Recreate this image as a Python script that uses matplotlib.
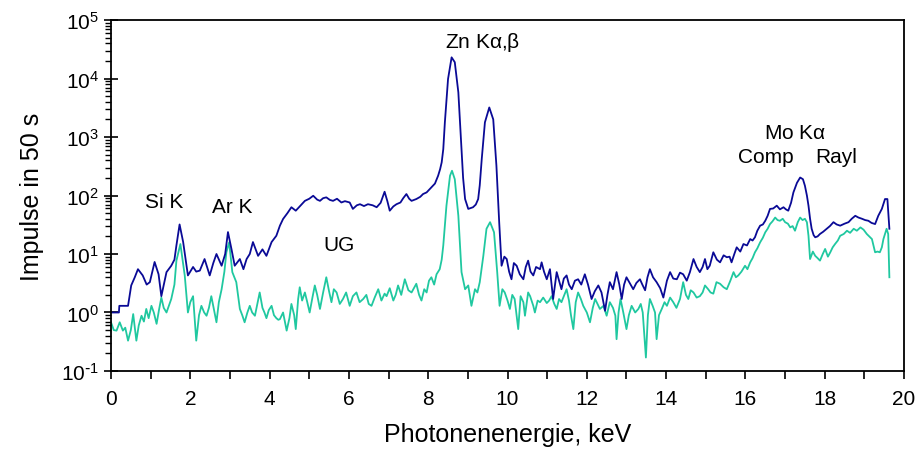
import matplotlib
matplotlib.use("Agg")
import matplotlib.pyplot as plt
from matplotlib.ticker import LogLocator, MultipleLocator, FuncFormatter
import math

plt.rcParams['font.family'] = ['Liberation Sans', 'DejaVu Sans']
plt.rcParams['mathtext.default'] = 'regular'
plt.rcParams['axes.unicode_minus'] = False

# spectrum 1 (dark blue): energy in keV, counts per 50 s
e_blue = [0.0, 0.2, 0.21, 0.43, 0.51, 0.6, 0.68, 0.8, 0.9, 0.98, 1.1, 1.2, 1.27, 1.4, 1.52, 1.6, 1.65,
          1.73, 1.82, 1.94, 2.07, 2.15, 2.24, 2.36, 2.49, 2.58, 2.66, 2.79, 2.88, 2.95, 3.04, 3.12, 3.25,
          3.34, 3.42, 3.5, 3.58, 3.71, 3.82, 3.92, 4.05, 4.17, 4.26, 4.34, 4.45, 4.55, 4.66, 4.76, 4.89,
          5.0, 5.1, 5.2, 5.27, 5.35, 5.43, 5.52, 5.6, 5.7, 5.81, 5.9, 6.02, 6.1, 6.2, 6.28, 6.38, 6.48,
          6.6, 6.7, 6.8, 6.9, 6.97, 7.03, 7.12, 7.2, 7.3, 7.37, 7.45, 7.52, 7.58, 7.7, 7.8, 7.87, 7.96,
          8.08, 8.17, 8.25, 8.3, 8.34, 8.38, 8.42, 8.5, 8.59, 8.67, 8.76, 8.84, 8.88, 8.93, 9.01, 9.13,
          9.2, 9.26, 9.3, 9.35, 9.43, 9.54, 9.64, 9.72, 9.79, 9.85, 9.92, 9.98, 10.04, 10.1, 10.16, 10.23,
          10.31, 10.4, 10.46, 10.52, 10.58, 10.65, 10.72, 10.82, 10.86, 10.92, 10.99, 11.07, 11.15, 11.24,
          11.3, 11.36, 11.42, 11.49, 11.55, 11.62, 11.7, 11.78, 11.86, 11.95, 12.03, 12.12, 12.2, 12.29,
          12.37, 12.46, 12.52, 12.58, 12.66, 12.75, 12.82, 12.88, 12.94, 13.0, 13.08, 13.17, 13.25, 13.34,
          13.4, 13.47, 13.53, 13.59, 13.67, 13.76, 13.85, 13.93, 14.02, 14.1, 14.18, 14.27, 14.35, 14.43,
          14.52, 14.6, 14.69, 14.77, 14.85, 14.92, 14.98, 15.04, 15.1, 15.19, 15.28, 15.36, 15.45, 15.53,
          15.6, 15.65, 15.72, 15.78, 15.87, 15.95, 16.04, 16.12, 16.18, 16.24, 16.3, 16.37, 16.44, 16.5,
          16.56, 16.62, 16.7, 16.79, 16.87, 16.96, 17.02, 17.08, 17.15, 17.21, 17.3, 17.38, 17.45, 17.5,
          17.55, 17.59, 17.63, 17.67, 17.72, 17.76, 17.82, 17.88, 17.96, 18.05, 18.13, 18.22, 18.3, 18.39,
          18.5, 18.6, 18.68, 18.77, 18.85, 18.94, 19.02, 19.1, 19.18, 19.27, 19.35, 19.44, 19.52, 19.58,
          19.63]
n_blue = [1.0, 1.0, 1.3, 1.3, 2.9, 4.0, 5.5, 4.3, 3.0, 3.3, 7.3, 4.5, 1.9, 4.9, 6.3, 8, 14,
          32, 16, 4.3, 6, 5, 5.2, 8.2, 4.3, 7, 10, 6.3, 10, 23.7, 12, 6.3, 8.2,
          5.5, 8.2, 10, 16, 9.3, 12, 9.3, 16, 20.5, 30.5, 39.7, 50, 63, 55, 65, 81,
          88, 99, 85, 81, 90, 93, 84, 81, 88, 76, 80, 76, 59, 68, 71, 66, 71,
          68, 63, 75, 116, 80, 55, 65, 71, 76, 90, 106, 88, 81, 87, 95, 106, 113,
          138, 160, 218, 282, 369, 620, 1780, 9800, 23000, 19000, 5800, 620, 200, 87, 59, 63,
          70, 87, 150, 420, 1780, 3200, 2000, 324, 35, 6.3, 9, 8.2, 5, 3.7, 7, 6.3,
          4.5, 3.7, 6, 7.7, 5, 4.3, 6, 5.5, 7.2, 5, 3.7, 5.5, 1.7, 4.9,
          3.5, 2.5, 3.8, 4.3, 3, 2.5, 3.5, 3.7, 3, 4.5, 3, 1.7, 2.3, 2.9,
          2.2, 1.07, 2, 3.3, 2.5, 4.9, 3, 1.7, 3, 4.0, 3.2, 2.5, 3.2, 3.7,
          3, 2.4, 4, 5.5, 4, 3.3, 2.6, 1.8, 3.5, 4.9, 3.8, 3.7, 4.8, 4.5,
          3.5, 4.9, 8.2, 6, 4.9, 6, 8.2, 5.5, 6.3, 10.7, 8, 7.2, 9.5, 8.8,
          9, 7.2, 10, 13, 11, 14.8, 14, 18, 17, 19.3, 25, 30.5, 32, 37,
          45, 59, 60, 67, 58, 63, 58, 55, 75, 113, 165, 203, 190, 147,
          100, 67, 40, 27, 21, 19.3, 20, 22, 24, 27, 30, 35, 32, 30.5,
          33, 35, 40, 45, 42, 40, 38, 37, 34, 32.5, 45, 59, 87, 87,
          27]

# spectrum 2 (turquoise)
e_teal = [0.0, 0.07, 0.14, 0.22, 0.3, 0.36, 0.43, 0.5, 0.56, 0.64, 0.7, 0.77, 0.83, 0.89, 0.95, 1.02,
          1.08, 1.15, 1.21, 1.27, 1.33, 1.4, 1.46, 1.52, 1.6, 1.65, 1.75, 1.86, 1.94, 2.0, 2.07, 2.15,
          2.22, 2.28, 2.35, 2.41, 2.47, 2.53, 2.6, 2.66, 2.72, 2.79, 2.86, 2.91, 2.98, 3.06, 3.16, 3.25,
          3.31, 3.37, 3.44, 3.5, 3.56, 3.63, 3.69, 3.75, 3.82, 3.87, 3.92, 3.98, 4.05, 4.11, 4.17, 4.22,
          4.26, 4.34, 4.43, 4.5, 4.55, 4.62, 4.66, 4.72, 4.76, 4.82, 4.89, 4.95, 5.01, 5.08, 5.14, 5.2,
          5.27, 5.35, 5.43, 5.5, 5.56, 5.62, 5.69, 5.77, 5.85, 5.93, 6.02, 6.1, 6.19, 6.27, 6.36, 6.44,
          6.5, 6.57, 6.65, 6.74, 6.82, 6.9, 6.95, 7.03, 7.12, 7.18, 7.24, 7.32, 7.41, 7.5, 7.58, 7.64,
          7.7, 7.77, 7.83, 7.9, 7.96, 8.02, 8.08, 8.15, 8.21, 8.29, 8.34, 8.38, 8.46, 8.55, 8.6, 8.67,
          8.76, 8.84, 8.93, 9.01, 9.09, 9.18, 9.24, 9.3, 9.39, 9.47, 9.56, 9.66, 9.74, 9.8, 9.87, 9.93,
          10.0, 10.06, 10.12, 10.18, 10.27, 10.33, 10.4, 10.44, 10.52, 10.57, 10.65, 10.69, 10.76, 10.82,
          10.9, 10.99, 11.05, 11.11, 11.18, 11.24, 11.3, 11.36, 11.42, 11.49, 11.55, 11.6, 11.66, 11.72,
          11.78, 11.85, 11.91, 12.0, 12.08, 12.15, 12.21, 12.27, 12.33, 12.42, 12.5, 12.58, 12.66, 12.72,
          12.75, 12.8, 12.85, 12.92, 13.0, 13.06, 13.13, 13.22, 13.3, 13.36, 13.41, 13.49, 13.54, 13.59,
          13.66, 13.72, 13.76, 13.82, 13.89, 13.96, 14.02, 14.1, 14.18, 14.26, 14.35, 14.43, 14.5, 14.56,
          14.62, 14.69, 14.77, 14.85, 14.92, 14.98, 15.06, 15.12, 15.19, 15.27, 15.36, 15.45, 15.53, 15.62,
          15.7, 15.76, 15.82, 15.9, 15.99, 16.05, 16.12, 16.18, 16.24, 16.3, 16.37, 16.44, 16.5, 16.56,
          16.62, 16.68, 16.75, 16.81, 16.87, 16.94, 17.0, 17.07, 17.13, 17.19, 17.25, 17.32, 17.38, 17.44,
          17.5, 17.55, 17.59, 17.63, 17.7, 17.76, 17.82, 17.88, 17.95, 18.01, 18.08, 18.14, 18.2, 18.26,
          18.33, 18.39, 18.48, 18.56, 18.64, 18.73, 18.81, 18.9, 18.98, 19.06, 19.12, 19.19, 19.23, 19.27,
          19.33, 19.39, 19.44, 19.48, 19.52, 19.56, 19.6, 19.63]
n_teal = [0.68, 0.5, 0.49, 0.68, 0.49, 0.55, 0.33, 0.5, 0.94, 0.33, 0.6, 0.88, 0.7, 1.15, 0.8, 1.3,
          1.0, 0.64, 1.1, 1.8, 1.2, 1.0, 1.3, 1.7, 3, 7.7, 14.8, 4.3, 1.0, 1.5, 1.9, 0.33,
          0.9, 1.3, 1.0, 0.88, 1.2, 1.9, 1.1, 0.68, 1.5, 2.5, 5, 10.7, 15.8, 4.9, 3.3, 1.15,
          0.9, 0.68, 1.0, 1.3, 1.0, 0.88, 1.4, 2.2, 1.2, 1.0, 0.8, 1.1, 1.3, 0.9, 0.8, 0.75,
          0.77, 1.0, 0.49, 0.8, 1.4, 0.9, 0.52, 1.7, 2.7, 1.6, 2.2, 1.5, 1.0, 1.8, 2.9, 2.0,
          1.15, 2.2, 4.0, 2.3, 1.5, 2.5, 2.2, 1.4, 1.7, 2.2, 1.3, 1.9, 2.2, 1.5, 1.7, 2.0,
          1.4, 1.3, 1.8, 2.5, 1.6, 2.1, 1.9, 2.6, 1.6, 2.0, 2.9, 2.0, 3.7, 2.4, 2.2, 2.6,
          3.1, 2.0, 1.6, 2.5, 2.2, 3.5, 4.0, 3.0, 4.5, 5.5, 8, 14, 67, 218, 265, 190,
          45, 4.9, 2.5, 2.9, 1.3, 2.5, 2.2, 3.3, 9.3, 27, 35, 23.5, 4.9, 1.3, 2.5, 2.2,
          1.6, 1.15, 2.0, 1.7, 0.52, 1.9, 1.5, 0.88, 2.2, 1.9, 1.3, 1.0, 1.6, 1.5,
          1.8, 1.45, 1.6, 1.9, 1.4, 1.15, 1.7, 1.5, 1.9, 2.5, 1.6, 0.9, 0.52, 1.5,
          2.2, 1.7, 1.3, 1.0, 0.68, 1.2, 1.7, 1.4, 1.15, 1.3, 0.88, 1.5, 1.2, 0.88,
          0.35, 1.0, 1.7, 1.0, 0.52, 0.9, 1.3, 1.0, 1.15, 1.4, 1.0, 0.17, 0.9, 1.7,
          1.3, 1.0, 0.35, 0.9, 1.15, 1.5, 1.3, 1.8, 1.5, 1.2, 1.7, 3.3, 2.0, 1.7,
          2.4, 2.2, 1.8, 1.9, 2.2, 2.9, 2.5, 2.2, 2.1, 3.3, 3.1, 2.7, 2.5, 3.5,
          4.9, 4.0, 4.3, 5, 6.3, 5.5, 7.2, 8.5, 10.7, 12.5, 15.8, 19, 23.5, 27,
          32.5, 36, 42, 38, 37, 40, 35, 33, 28.5, 30, 25, 35, 42, 38,
          40, 35, 20.5, 8.2, 11, 9.3, 8.5, 7.7, 10, 12.2, 9, 10.7, 13, 14.8,
          17, 20.5, 22, 25, 23, 27, 25, 28.5, 26, 22, 20, 18, 14, 10.7,
          11, 10.7, 13, 18, 22, 27, 22, 4.0]

# peak labels: text, energy, counts
labels = ["Si K", "Ar K", "UG", r"Zn K$\alpha$,$\beta$", r"Mo K$\alpha$", "Comp", "Rayl"]
label_e = [1.35, 3.07, 5.75, 9.38, 17.25, 16.52, 18.3]
label_n = [80, 66, 14.8, 43600, 1216, 456, 456]


def pow10_label(v, pos):
    k = int(round(math.log10(v)))
    if k < 0:
        return r'$10^{\text{-}%d}$' % (-k)
    return r'$10^{%d}$' % k


fig = plt.figure(figsize=(9.18, 4.64), dpi=100)
ax = fig.add_axes([0.1209, 0.1983, 0.8639, 0.7564])

ax.plot(e_teal, n_teal, color='#20C8A0', lw=1.3)
ax.plot(e_blue, n_blue, color='#0A0A96', lw=1.3)

for t, e, n in zip(labels, label_e, label_n):
    ax.text(e, n, t, ha='center', va='center', fontsize=15)

ax.set_yscale('log')
ax.set_xlim(0, 20)
ax.set_ylim(0.1, 1e5)
ax.xaxis.set_major_locator(MultipleLocator(1))
ax.xaxis.set_major_formatter(FuncFormatter(lambda v, p: '%d' % v if round(v) % 2 == 0 else ''))
ax.yaxis.set_major_locator(LogLocator(base=10, numticks=10))
ax.yaxis.set_major_formatter(FuncFormatter(pow10_label))
ax.yaxis.set_minor_locator(LogLocator(base=10, subs=range(2, 10), numticks=20))
ax.yaxis.set_minor_formatter(FuncFormatter(lambda v, p: ''))
ax.tick_params(axis='x', direction='out', length=6, width=1.2, labelsize=15, pad=7)
ax.tick_params(axis='y', which='major', direction='inout', length=10, width=1.2, labelsize=15)
ax.tick_params(axis='y', which='minor', direction='out', length=4, width=1)
for s in ax.spines.values():
    s.set_linewidth(1.3)

ax.set_xlabel('Photonenenergie, keV', fontsize=18, labelpad=10)
ax.set_ylabel('Impulse in 50 s', fontsize=18, labelpad=12)

fig.savefig('out.png', dpi=100)
